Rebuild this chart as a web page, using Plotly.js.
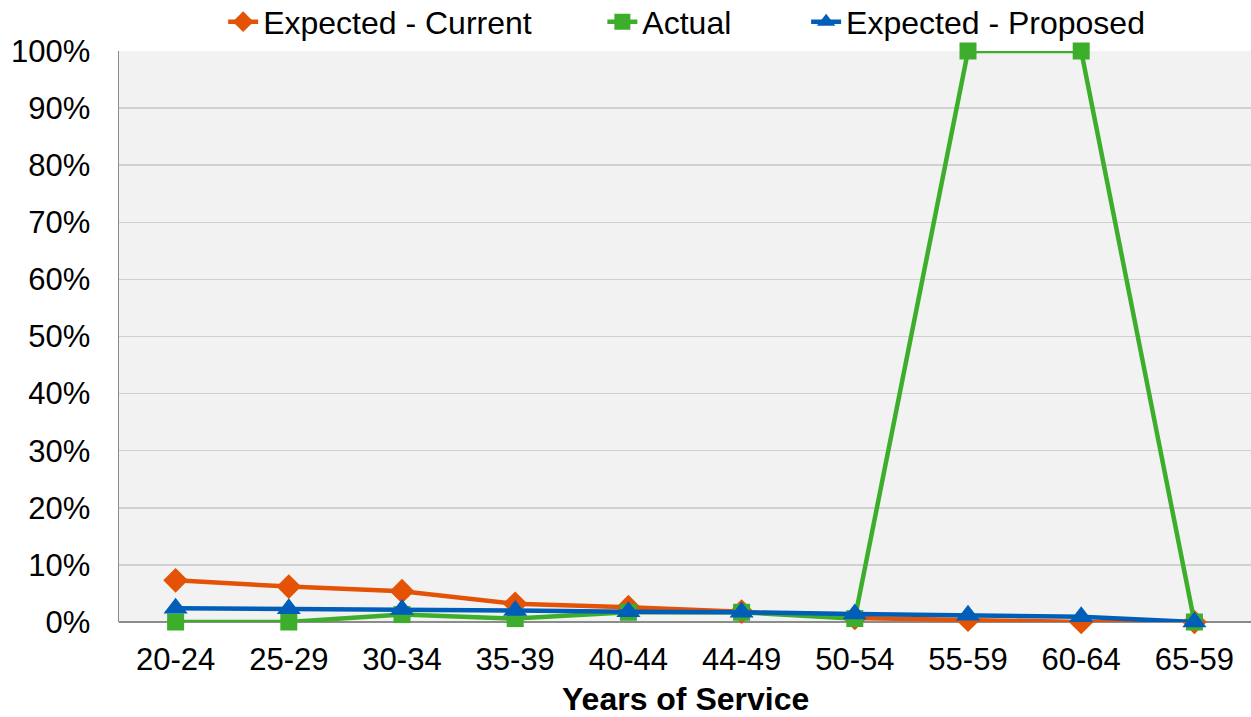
<!DOCTYPE html>
<html>
<head>
<meta charset="utf-8">
<script src="https://cdn.plot.ly/plotly-3.0.1.min.js"></script>
<style>
  html, body { margin: 0; padding: 0; background: #ffffff; }
  #chart { width: 1251px; height: 717px; }
</style>
</head>
<body>
<div id="chart"></div>
<script>
// Years-of-service bands on the x axis
const serviceBands = ['20-24', '25-29', '30-34', '35-39', '40-44', '44-49', '50-54', '55-59', '60-64', '65-59'];

// Rates in percent for each band
const expectedCurrent  = [7.3, 6.2, 5.4, 3.2, 2.6, 1.8, 0.7, 0.4, 0.0, 0.0];
const actual           = [0.0, 0.0, 1.3, 0.6, 1.7, 1.7, 0.6, 100, 100, 0.0];
const expectedProposed = [2.4, 2.3, 2.2, 2.0, 1.8, 1.7, 1.4, 1.2, 0.9, 0.0];

const yTicks = [0, 10, 20, 30, 40, 50, 60, 70, 80, 90, 100];
const yTickLabels = yTicks.map(v => v + '%');

const xAxisTitle = 'Years of Service';

const fontFamily = '"Liberation Sans", Arial, sans-serif';

function series(name, values, color, symbol, size, legendId) {
  return {
    type: 'scatter',
    mode: 'lines+markers',
    name: name,
    legend: legendId,
    x: serviceBands,
    y: values,
    line: { color: color, width: 4.5 },
    marker: { color: color, symbol: symbol, size: size },
    cliponaxis: false
  };
}

const traces = [
  series('Expected - Current', expectedCurrent, '#E35205', 'diamond', 19, 'legend'),
  series('Actual', actual, '#3DAE2B', 'square', 17, 'legend2'),
  series('Expected - Proposed', expectedProposed, '#005EB8', 'triangle-up', 21, 'legend3')
];

// One legend box per series so each entry sits at its own spot above the plot
function legendAt(xPaper) {
  return {
    orientation: 'h',
    x: xPaper,
    xanchor: 'left',
    y: 1.051,
    yanchor: 'middle',
    font: { family: fontFamily, size: 32, color: '#000000' },
    bgcolor: 'rgba(0,0,0,0)',
    borderwidth: 0
  };
}

const layout = {
  width: 1251,
  height: 717,
  margin: { l: 119, r: 0, t: 51, b: 95, autoexpand: false },
  paper_bgcolor: '#ffffff',
  plot_bgcolor: '#f2f2f2',
  font: { family: fontFamily, color: '#000000', size: 31 },
  showlegend: true,
  legend: legendAt(0.092),
  legend2: legendAt(0.427),
  legend3: legendAt(0.607),
  xaxis: {
    type: 'category',
    range: [-0.5, 9.5],
    showgrid: false,
    zeroline: false,
    showline: false,
    ticks: '',
    tickfont: { family: fontFamily, size: 31, color: '#000000' },
    ticklabelstandoff: 16
  },
  yaxis: {
    range: [0, 100],
    tickvals: yTicks,
    ticktext: yTickLabels,
    showgrid: true,
    gridcolor: '#d0d0d0',
    gridwidth: 1.5,
    zeroline: true,
    zerolinecolor: '#8c8c8c',
    zerolinewidth: 2,
    showline: true,
    linecolor: '#8c8c8c',
    linewidth: 1.5,
    ticks: '',
    tickfont: { family: fontFamily, size: 31, color: '#000000' },
    ticklabelstandoff: 21
  },
  // x-axis title placed below the tick labels
  annotations: [{
    text: '<b>' + xAxisTitle + '</b>',
    xref: 'paper', yref: 'paper',
    x: 0.5, y: 0,
    xanchor: 'center', yanchor: 'middle',
    yshift: -77,
    borderpad: 0,
    showarrow: false,
    font: { family: fontFamily, size: 32, color: '#000000' }
  }]
};

Plotly.newPlot('chart', traces, layout, { displayModeBar: false, staticPlot: true });
</script>
</body>
</html>
